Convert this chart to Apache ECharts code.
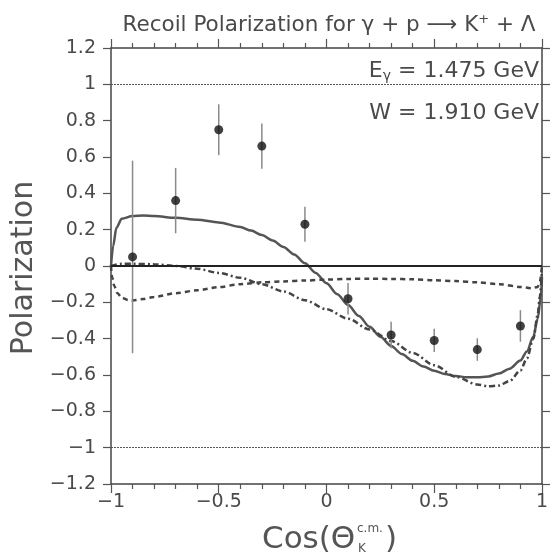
<!DOCTYPE html>
<html>
<head>
<meta charset="utf-8">
<script src="https://cdn.jsdelivr.net/npm/echarts@6/dist/echarts.min.js"></script>
<style>
html,body{margin:0;padding:0;background:#fff;}
#chart{width:551px;height:557px;}
</style>
</head>
<body>
<div id="chart"></div>
<script>
// ---- data ----
const xTicks = [-1, -0.5, 0, 0.5, 1];
const yTicks = [-1.2, -1, -0.8, -0.6, -0.4, -0.2, 0, 0.2, 0.4, 0.6, 0.8, 1, 1.2];
const refLevels = [1, -1];
const zeroLevel = [0];

const cosTheta = [-0.9, -0.7, -0.5, -0.3, -0.1, 0.1, 0.3, 0.5, 0.7, 0.9];
const polarization = [0.05, 0.36, 0.75, 0.66, 0.23, -0.18, -0.38, -0.41, -0.46, -0.33];
const polError = [0.53, 0.18, 0.14, 0.125, 0.096, 0.087, 0.073, 0.064, 0.062, 0.087];

const solidX = [-1.0, -0.99, -0.975, -0.95, -0.9, -0.85, -0.8, -0.7, -0.6, -0.5, -0.4, -0.35, -0.3, -0.25, -0.2, -0.15, -0.1, -0.05, 0.0, 0.05, 0.1, 0.15, 0.2, 0.25, 0.3, 0.35, 0.4, 0.45, 0.5, 0.55, 0.6, 0.65, 0.7, 0.75, 0.8, 0.85, 0.9, 0.93, 0.96, 0.98, 0.995, 1.0];
const solidY = [0.0, 0.11, 0.21, 0.26, 0.275, 0.278, 0.275, 0.265, 0.255, 0.24, 0.215, 0.195, 0.17, 0.14, 0.105, 0.063, 0.015, -0.038, -0.095, -0.155, -0.215, -0.275, -0.335, -0.39, -0.44, -0.485, -0.522, -0.553, -0.577, -0.595, -0.606, -0.612, -0.613, -0.608, -0.592, -0.565, -0.52, -0.47, -0.39, -0.29, -0.17, -0.06];

const dashX = [-1.0, -0.995, -0.985, -0.97, -0.95, -0.92, -0.9, -0.85, -0.8, -0.7, -0.6, -0.5, -0.4, -0.3, -0.2, -0.1, 0.0, 0.1, 0.2, 0.3, 0.4, 0.5, 0.6, 0.7, 0.8, 0.9, 0.95, 0.98, 0.99, 1.0];
const dashY = [0.0, -0.06, -0.11, -0.15, -0.175, -0.188, -0.19, -0.182, -0.17, -0.15, -0.134, -0.116, -0.1, -0.09, -0.085, -0.08, -0.075, -0.071, -0.07, -0.071, -0.073, -0.078, -0.083, -0.09, -0.1, -0.115, -0.122, -0.115, -0.09, 0.0];

const dashDotX = [-1.0, -0.95, -0.9, -0.8, -0.7, -0.6, -0.5, -0.4, -0.3, -0.2, -0.1, 0.0, 0.1, 0.2, 0.3, 0.4, 0.5, 0.6, 0.7, 0.75, 0.8, 0.85, 0.9, 0.93, 0.96, 0.98, 0.99, 1.0];
const dashDotY = [0.0, 0.012, 0.012, 0.01, 0.0, -0.015, -0.038, -0.065, -0.1, -0.14, -0.188, -0.238, -0.29, -0.35, -0.413, -0.478, -0.546, -0.61, -0.652, -0.662, -0.658, -0.633, -0.575, -0.51, -0.4, -0.27, -0.17, -0.03];

// ---- build ----
const zip = (xs, ys) => xs.map((x, i) => [x, ys[i]]);
const fmt = v => {
  const r = Math.round(v * 10) / 10;
  return (r < 0 ? '\u2212' : '') + String(Math.abs(r));
};
const textColor = '#4a4a4a';
const axisColor = '#444';
const tickColor = '#555';
const FONT = 'DejaVu Sans';

const chart = echarts.init(document.getElementById('chart'), null, {renderer: 'canvas'});

const grid = {left: 111, top: 48, width: 437, height: 436};

function xAxisDef(pos, showLabel) {
  return {
    type: 'value', position: pos, min: xTicks[0], max: xTicks[xTicks.length - 1], interval: 0.5,
    axisLine: {show: true, onZero: false, lineStyle: {color: axisColor, width: 1.5}},
    axisTick: {show: true, inside: true, length: -9, lineStyle: {color: tickColor, width: 1.2}},
    minorTick: {show: true, splitNumber: 5, length: -5, lineStyle: {color: tickColor, width: 1.2}},
    splitLine: {show: false},
    axisLabel: showLabel
      ? {show: true, margin: 9, color: textColor, fontFamily: FONT, fontSize: 19, formatter: fmt}
      : {show: false}
  };
}
function yAxisDef(pos, showLabel) {
  return {
    type: 'value', position: pos, min: yTicks[0], max: yTicks[yTicks.length - 1], interval: 0.2,
    axisLine: {show: true, onZero: false, lineStyle: {color: axisColor, width: 1.5}},
    axisTick: {show: true, inside: true, length: -8, lineStyle: {color: tickColor, width: 1.2}},
    splitLine: {show: false},
    axisLabel: showLabel
      ? {show: true, margin: 15, color: textColor, fontFamily: FONT, fontSize: 19, formatter: fmt}
      : {show: false}
  };
}

const option = {
  animation: false,
  backgroundColor: '#fff',
  grid: grid,
  xAxis: [xAxisDef('bottom', true), xAxisDef('top', false)],
  yAxis: [yAxisDef('left', true), yAxisDef('right', false)],
  graphic: [
    {type: 'text', x: 329, y: 25, silent: true, style: {
      text: 'Recoil Polarization for \u03b3 + p \u27f6 K{sup|+} + \u039b',
      fill: textColor, font: '21.5px "' + FONT + '"', align: 'center', verticalAlign: 'middle',
      rich: {sup: {fontSize: 13, fontFamily: FONT, fill: textColor, verticalAlign: 'top', padding: [0, 0, 10, 0]}}
    }},
    {type: 'text', x: 539, y: 71, silent: true, style: {
      text: 'E{sub|\u03b3} = 1.475 GeV',
      fill: textColor, font: '22px "' + FONT + '"', align: 'right', verticalAlign: 'middle',
      rich: {sub: {fontSize: 14, fontFamily: FONT, fill: textColor, padding: [10, 0, 0, 0]}}
    }},
    {type: 'text', x: 539, y: 113, silent: true, style: {
      text: 'W = 1.910 GeV',
      fill: textColor, font: '22px "' + FONT + '"', align: 'right', verticalAlign: 'middle'
    }},
    {type: 'text', x: 24, y: 268, rotation: Math.PI / 2, silent: true, style: {
      text: 'Polarization', fill: '#555', font: '30px "' + FONT + '"', align: 'center', verticalAlign: 'middle'
    }},
    {type: 'text', x: 262, y: 540, silent: true, style: {
      text: 'Cos(\u0398', fill: '#555', font: '31px "' + FONT + '"', align: 'left', verticalAlign: 'middle'
    }},
    {type: 'text', x: 357, y: 529, silent: true, style: {
      text: 'c.m.', fill: '#555', font: '12px "' + FONT + '"', align: 'left', verticalAlign: 'middle'
    }},
    {type: 'text', x: 358, y: 549, silent: true, style: {
      text: 'K', fill: '#555', font: '12px "' + FONT + '"', align: 'left', verticalAlign: 'middle'
    }},
    {type: 'text', x: 385, y: 540, silent: true, style: {
      text: ')', fill: '#555', font: '31px "' + FONT + '"', align: 'left', verticalAlign: 'middle'
    }}
  ],
  series: [
    {
      type: 'line', data: zip(solidX, solidY), showSymbol: false, symbol: 'none',
      smooth: 0.3, smoothMonotone: 'x', clip: true,
      lineStyle: {color: '#555', width: 2.5, type: 'solid'}, z: 3
    },
    {
      type: 'line', data: zip(dashX, dashY), showSymbol: false, symbol: 'none',
      smooth: 0.3, smoothMonotone: 'x', clip: true,
      lineStyle: {color: '#444', width: 2.5, type: [5, 4]}, z: 3
    },
    {
      type: 'line', data: zip(dashDotX, dashDotY), showSymbol: false, symbol: 'none',
      smooth: 0.3, smoothMonotone: 'x', clip: true,
      lineStyle: {color: '#444', width: 2.5, type: [6, 3, 2, 3]}, z: 3
    },
    {
      type: 'custom',
      data: cosTheta.map((x, i) => [x, polarization[i] - polError[i], polarization[i] + polError[i]]),
      renderItem: function (params, api) {
        const lo = api.coord([api.value(0), api.value(1)]);
        const hi = api.coord([api.value(0), api.value(2)]);
        return {type: 'line', shape: {x1: lo[0], y1: lo[1], x2: hi[0], y2: hi[1]},
          style: {stroke: '#8a8a8a', lineWidth: 1.5}};
      },
      z: 4, silent: true
    },
    {
      type: 'scatter', data: zip(cosTheta, polarization), symbol: 'circle', symbolSize: 9,
      itemStyle: {color: '#111'}, z: 5, silent: true,
      markLine: {
        silent: true, symbol: 'none', label: {show: false}, animation: false,
        data: refLevels.map(v => ({yAxis: v, lineStyle: {color: '#555', width: 1.2, type: [2, 1]}}))
          .concat(zeroLevel.map(v => ({yAxis: v, lineStyle: {color: '#222', width: 2.2, type: 'solid'}})))
      }
    }
  ]
};
chart.setOption(option);
</script>
</body>
</html>
